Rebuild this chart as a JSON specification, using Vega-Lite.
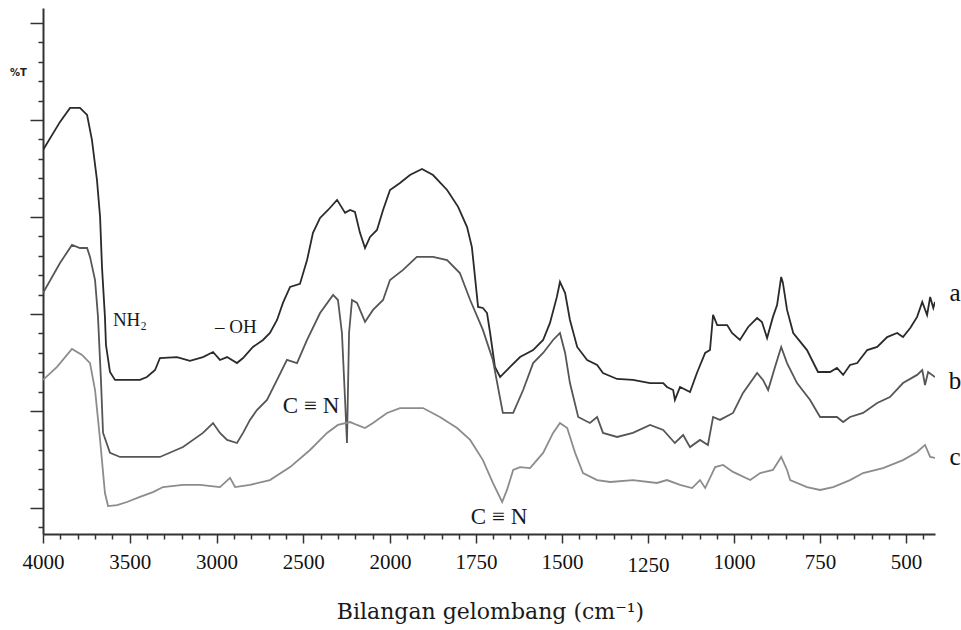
{
  "$schema": "https://vega.github.io/schema/vega-lite/v6.json",
  "width": 892,
  "height": 526,
  "autosize": "none",
  "padding": {"left": 43, "top": 8, "right": 26, "bottom": 96},
  "background": "white",
  "config": {"view": {"stroke": null}, "axis": {"grid": false}},
  "datasets": {
    "spectra": [
      {"s":"a","wn":4000,"t":23.45},{"s":"a","wn":3902,"t":24.90},{"s":"a","wn":3844,"t":25.62},{"s":"a","wn":3787,"t":25.62},{"s":"a","wn":3746,"t":25.26},{"s":"a","wn":3718,"t":23.97},{"s":"a","wn":3689,"t":21.91},{"s":"a","wn":3671,"t":20.00},{"s":"a","wn":3660,"t":17.42},{"s":"a","wn":3643,"t":14.85},{"s":"a","wn":3637,"t":13.40},{"s":"a","wn":3614,"t":12.01},{"s":"a","wn":3585,"t":11.60},{"s":"a","wn":3481,"t":11.60},{"s":"a","wn":3441,"t":11.60},{"s":"a","wn":3401,"t":11.75},{"s":"a","wn":3354,"t":12.11},{"s":"a","wn":3326,"t":12.73},{"s":"a","wn":3228,"t":12.78},{"s":"a","wn":3153,"t":12.58},{"s":"a","wn":3078,"t":12.78},{"s":"a","wn":3020,"t":13.04},{"s":"a","wn":2980,"t":12.63},{"s":"a","wn":2939,"t":12.78},{"s":"a","wn":2882,"t":12.47},{"s":"a","wn":2847,"t":12.73},{"s":"a","wn":2790,"t":13.30},{"s":"a","wn":2732,"t":13.66},{"s":"a","wn":2692,"t":14.02},{"s":"a","wn":2651,"t":14.69},{"s":"a","wn":2617,"t":15.57},{"s":"a","wn":2576,"t":16.39},{"s":"a","wn":2519,"t":16.55},{"s":"a","wn":2478,"t":17.78},{"s":"a","wn":2444,"t":19.18},{"s":"a","wn":2403,"t":19.95},{"s":"a","wn":2357,"t":20.36},{"s":"a","wn":2305,"t":20.88},{"s":"a","wn":2259,"t":20.21},{"s":"a","wn":2230,"t":20.36},{"s":"a","wn":2202,"t":20.26},{"s":"a","wn":2173,"t":19.18},{"s":"a","wn":2144,"t":18.40},{"s":"a","wn":2115,"t":18.97},{"s":"a","wn":2075,"t":19.33},{"s":"a","wn":2040,"t":20.36},{"s":"a","wn":2000,"t":21.39},{"s":"a","wn":1971,"t":21.75},{"s":"a","wn":1942,"t":22.16},{"s":"a","wn":1907,"t":22.47},{"s":"a","wn":1875,"t":22.16},{"s":"a","wn":1834,"t":21.39},{"s":"a","wn":1802,"t":20.52},{"s":"a","wn":1776,"t":19.48},{"s":"a","wn":1762,"t":18.45},{"s":"a","wn":1753,"t":16.91},{"s":"a","wn":1744,"t":15.36},{"s":"a","wn":1730,"t":15.31},{"s":"a","wn":1718,"t":15.05},{"s":"a","wn":1709,"t":14.02},{"s":"a","wn":1695,"t":12.27},{"s":"a","wn":1680,"t":11.75},{"s":"a","wn":1651,"t":12.27},{"s":"a","wn":1622,"t":12.78},{"s":"a","wn":1584,"t":13.14},{"s":"a","wn":1555,"t":13.66},{"s":"a","wn":1535,"t":14.54},{"s":"a","wn":1515,"t":15.88},{"s":"a","wn":1506,"t":16.65},{"s":"a","wn":1491,"t":16.08},{"s":"a","wn":1477,"t":14.69},{"s":"a","wn":1456,"t":13.30},{"s":"a","wn":1427,"t":12.63},{"s":"a","wn":1398,"t":12.37},{"s":"a","wn":1381,"t":11.96},{"s":"a","wn":1340,"t":11.65},{"s":"a","wn":1294,"t":11.60},{"s":"a","wn":1244,"t":11.44},{"s":"a","wn":1206,"t":11.44},{"s":"a","wn":1195,"t":11.24},{"s":"a","wn":1177,"t":11.08},{"s":"a","wn":1172,"t":10.57},{"s":"a","wn":1157,"t":11.24},{"s":"a","wn":1128,"t":10.98},{"s":"a","wn":1108,"t":11.96},{"s":"a","wn":1084,"t":12.99},{"s":"a","wn":1070,"t":13.14},{"s":"a","wn":1061,"t":14.95},{"s":"a","wn":1049,"t":14.43},{"s":"a","wn":1020,"t":14.43},{"s":"a","wn":1006,"t":14.02},{"s":"a","wn":983,"t":13.66},{"s":"a","wn":959,"t":14.33},{"s":"a","wn":933,"t":14.79},{"s":"a","wn":919,"t":14.59},{"s":"a","wn":904,"t":13.76},{"s":"a","wn":887,"t":14.85},{"s":"a","wn":875,"t":15.46},{"s":"a","wn":863,"t":16.91},{"s":"a","wn":858,"t":16.60},{"s":"a","wn":846,"t":15.21},{"s":"a","wn":828,"t":14.02},{"s":"a","wn":788,"t":13.14},{"s":"a","wn":756,"t":12.01},{"s":"a","wn":721,"t":12.01},{"s":"a","wn":701,"t":12.22},{"s":"a","wn":683,"t":11.86},{"s":"a","wn":663,"t":12.37},{"s":"a","wn":642,"t":12.47},{"s":"a","wn":613,"t":13.14},{"s":"a","wn":584,"t":13.30},{"s":"a","wn":555,"t":13.81},{"s":"a","wn":526,"t":14.02},{"s":"a","wn":509,"t":13.81},{"s":"a","wn":488,"t":14.28},{"s":"a","wn":468,"t":14.85},{"s":"a","wn":453,"t":15.62},{"s":"a","wn":439,"t":14.95},{"s":"a","wn":430,"t":15.88},{"s":"a","wn":421,"t":15.31},{"s":"a","wn":416,"t":15.62},
      {"s":"b","wn":4000,"t":16.08},{"s":"b","wn":3902,"t":17.63},{"s":"b","wn":3833,"t":18.56},{"s":"b","wn":3787,"t":18.40},{"s":"b","wn":3746,"t":18.40},{"s":"b","wn":3729,"t":17.94},{"s":"b","wn":3700,"t":16.75},{"s":"b","wn":3683,"t":14.85},{"s":"b","wn":3666,"t":11.60},{"s":"b","wn":3654,"t":8.87},{"s":"b","wn":3614,"t":7.84},{"s":"b","wn":3556,"t":7.63},{"s":"b","wn":3481,"t":7.63},{"s":"b","wn":3326,"t":7.63},{"s":"b","wn":3193,"t":8.14},{"s":"b","wn":3078,"t":8.87},{"s":"b","wn":3020,"t":9.38},{"s":"b","wn":2980,"t":8.87},{"s":"b","wn":2939,"t":8.51},{"s":"b","wn":2882,"t":8.35},{"s":"b","wn":2847,"t":8.87},{"s":"b","wn":2807,"t":9.54},{"s":"b","wn":2767,"t":10.05},{"s":"b","wn":2709,"t":10.57},{"s":"b","wn":2651,"t":11.60},{"s":"b","wn":2594,"t":12.63},{"s":"b","wn":2536,"t":12.47},{"s":"b","wn":2478,"t":13.66},{"s":"b","wn":2403,"t":15.05},{"s":"b","wn":2328,"t":15.98},{"s":"b","wn":2300,"t":15.72},{"s":"b","wn":2277,"t":14.02},{"s":"b","wn":2259,"t":10.57},{"s":"b","wn":2248,"t":8.35},{"s":"b","wn":2236,"t":14.02},{"s":"b","wn":2219,"t":15.72},{"s":"b","wn":2190,"t":15.57},{"s":"b","wn":2144,"t":14.59},{"s":"b","wn":2098,"t":15.21},{"s":"b","wn":2040,"t":15.72},{"s":"b","wn":2000,"t":16.75},{"s":"b","wn":1962,"t":17.27},{"s":"b","wn":1922,"t":17.94},{"s":"b","wn":1875,"t":17.94},{"s":"b","wn":1834,"t":17.78},{"s":"b","wn":1797,"t":17.11},{"s":"b","wn":1767,"t":15.72},{"s":"b","wn":1730,"t":14.18},{"s":"b","wn":1701,"t":12.63},{"s":"b","wn":1672,"t":9.90},{"s":"b","wn":1642,"t":9.90},{"s":"b","wn":1613,"t":11.08},{"s":"b","wn":1584,"t":12.47},{"s":"b","wn":1555,"t":12.99},{"s":"b","wn":1526,"t":13.66},{"s":"b","wn":1506,"t":14.02},{"s":"b","wn":1491,"t":12.99},{"s":"b","wn":1477,"t":11.44},{"s":"b","wn":1453,"t":9.69},{"s":"b","wn":1419,"t":9.38},{"s":"b","wn":1398,"t":9.69},{"s":"b","wn":1381,"t":8.87},{"s":"b","wn":1340,"t":8.66},{"s":"b","wn":1294,"t":8.87},{"s":"b","wn":1244,"t":9.28},{"s":"b","wn":1206,"t":9.02},{"s":"b","wn":1172,"t":8.35},{"s":"b","wn":1148,"t":8.76},{"s":"b","wn":1128,"t":8.14},{"s":"b","wn":1099,"t":8.51},{"s":"b","wn":1076,"t":8.25},{"s":"b","wn":1061,"t":9.69},{"s":"b","wn":1041,"t":9.54},{"s":"b","wn":1003,"t":9.90},{"s":"b","wn":974,"t":10.93},{"s":"b","wn":933,"t":11.96},{"s":"b","wn":916,"t":11.60},{"s":"b","wn":901,"t":11.08},{"s":"b","wn":881,"t":12.27},{"s":"b","wn":863,"t":13.30},{"s":"b","wn":846,"t":12.47},{"s":"b","wn":817,"t":11.44},{"s":"b","wn":779,"t":10.57},{"s":"b","wn":750,"t":9.69},{"s":"b","wn":701,"t":9.69},{"s":"b","wn":683,"t":9.43},{"s":"b","wn":663,"t":9.69},{"s":"b","wn":625,"t":9.90},{"s":"b","wn":584,"t":10.41},{"s":"b","wn":547,"t":10.72},{"s":"b","wn":509,"t":11.44},{"s":"b","wn":468,"t":11.86},{"s":"b","wn":453,"t":12.11},{"s":"b","wn":445,"t":11.34},{"s":"b","wn":436,"t":12.01},{"s":"b","wn":416,"t":11.75},
      {"s":"c","wn":4000,"t":11.60},{"s":"c","wn":3919,"t":12.27},{"s":"c","wn":3833,"t":13.20},{"s":"c","wn":3775,"t":12.89},{"s":"c","wn":3729,"t":12.47},{"s":"c","wn":3700,"t":11.08},{"s":"c","wn":3671,"t":8.51},{"s":"c","wn":3643,"t":5.77},{"s":"c","wn":3625,"t":5.10},{"s":"c","wn":3573,"t":5.15},{"s":"c","wn":3516,"t":5.31},{"s":"c","wn":3441,"t":5.57},{"s":"c","wn":3366,"t":5.82},{"s":"c","wn":3308,"t":6.08},{"s":"c","wn":3193,"t":6.19},{"s":"c","wn":3095,"t":6.19},{"s":"c","wn":2980,"t":6.08},{"s":"c","wn":2922,"t":6.55},{"s":"c","wn":2893,"t":6.08},{"s":"c","wn":2807,"t":6.19},{"s":"c","wn":2692,"t":6.44},{"s":"c","wn":2576,"t":7.11},{"s":"c","wn":2461,"t":7.99},{"s":"c","wn":2363,"t":8.87},{"s":"c","wn":2300,"t":9.28},{"s":"c","wn":2230,"t":9.43},{"s":"c","wn":2190,"t":9.28},{"s":"c","wn":2144,"t":9.12},{"s":"c","wn":2098,"t":9.38},{"s":"c","wn":2017,"t":9.90},{"s":"c","wn":1971,"t":10.15},{"s":"c","wn":1904,"t":10.15},{"s":"c","wn":1855,"t":9.69},{"s":"c","wn":1805,"t":9.12},{"s":"c","wn":1767,"t":8.51},{"s":"c","wn":1730,"t":7.47},{"s":"c","wn":1701,"t":6.29},{"s":"c","wn":1674,"t":5.31},{"s":"c","wn":1660,"t":5.93},{"s":"c","wn":1642,"t":6.96},{"s":"c","wn":1622,"t":7.11},{"s":"c","wn":1593,"t":7.06},{"s":"c","wn":1555,"t":7.84},{"s":"c","wn":1526,"t":8.87},{"s":"c","wn":1506,"t":9.38},{"s":"c","wn":1485,"t":9.12},{"s":"c","wn":1462,"t":7.84},{"s":"c","wn":1439,"t":6.80},{"s":"c","wn":1398,"t":6.44},{"s":"c","wn":1360,"t":6.34},{"s":"c","wn":1294,"t":6.44},{"s":"c","wn":1224,"t":6.29},{"s":"c","wn":1195,"t":6.44},{"s":"c","wn":1157,"t":6.19},{"s":"c","wn":1122,"t":6.03},{"s":"c","wn":1099,"t":6.44},{"s":"c","wn":1084,"t":6.03},{"s":"c","wn":1055,"t":7.11},{"s":"c","wn":1032,"t":7.22},{"s":"c","wn":1003,"t":6.86},{"s":"c","wn":953,"t":6.44},{"s":"c","wn":924,"t":6.80},{"s":"c","wn":887,"t":6.96},{"s":"c","wn":863,"t":7.63},{"s":"c","wn":846,"t":6.96},{"s":"c","wn":837,"t":6.44},{"s":"c","wn":788,"t":6.08},{"s":"c","wn":750,"t":5.93},{"s":"c","wn":712,"t":6.08},{"s":"c","wn":663,"t":6.44},{"s":"c","wn":625,"t":6.80},{"s":"c","wn":567,"t":7.06},{"s":"c","wn":509,"t":7.47},{"s":"c","wn":468,"t":7.89},{"s":"c","wn":445,"t":8.25},{"s":"c","wn":430,"t":7.63},{"s":"c","wn":416,"t":7.58}
    ]
  },
  "encoding": {
    "x": {
      "field": "wn",
      "type": "quantitative",
      "scale": {"domain": [4000, 2000, 416], "range": [0, 347, 892], "nice": false, "zero": false},
      "axis": {
        "values": [4000,3900,3800,3700,3600,3500,3400,3300,3200,3100,3000,2900,2800,2700,2600,2500,2400,2300,2200,2100,2000,1950,1900,1850,1800,1750,1700,1650,1600,1550,1500,1450,1400,1350,1300,1250,1200,1150,1100,1050,1000,950,900,850,800,750,700,650,600,550,500,450],
        "format": "d",
        "labelExpr": "(datum.value % 500 === 0 || (datum.value <= 2000 && datum.value % 250 === 0)) ? datum.label : ''",
        "tickSize": {"condition": {"test": "datum.value % 500 === 0 || (datum.value <= 2000 && datum.value % 250 === 0)", "value": 9}, "value": 5},
        "labelPadding": {"condition": {"test": "datum.value === 1250", "value": 11}, "value": 8},
        "labelOverlap": false,
        "labelFlush": false,
        "labelBound": false,
        "labelFont": "Liberation Serif",
        "labelFontSize": 21,
        "labelColor": "#111111",
        "domainColor": "#333333",
        "domainWidth": 2,
        "tickColor": "#333333",
        "tickWidth": 1.5,
        "title": "Bilangan gelombang (cm⁻¹)",
        "titleFont": "DejaVu Serif",
        "titleFontSize": 22,
        "titleFontWeight": "normal",
        "titleColor": "#1a1a1a",
        "titleX": 447,
        "titleY": 84,
        "titleAlign": "center",
        "titleBaseline": "alphabetic"
      }
    },
    "y": {
      "field": "t",
      "type": "quantitative",
      "scale": {"domain": [3.66, 30.77], "nice": false, "zero": false},
      "axis": {
        "values": [4,5,6,7,8,9,10,11,12,13,14,15,16,17,18,19,20,21,22,23,24,25,26,27,28,29,30],
        "labels": false,
        "tickSize": {"condition": {"test": "datum.value % 5 === 0", "value": 13}, "value": 5},
        "domainColor": "#333333",
        "domainWidth": 2,
        "tickColor": "#333333",
        "tickWidth": 1.5,
        "title": "%T",
        "titleAngle": 0,
        "titleX": -25,
        "titleY": 64,
        "titleAlign": "center",
        "titleBaseline": "middle",
        "titleFont": "DejaVu Sans",
        "titleFontSize": 10,
        "titleFontWeight": "bold",
        "titleColor": "#222222"
      }
    }
  },
  "layer": [
    {
      "data": {"name": "spectra"},
      "mark": {"type": "line", "strokeWidth": 1.8, "clip": true},
      "encoding": {
        "color": {
          "field": "s",
          "type": "nominal",
          "scale": {"domain": ["a", "b", "c"], "range": ["#2a2a2a", "#565656", "#8c8c8c"]},
          "legend": null
        }
      }
    },
    {
      "data": {"values": [
        {"note": "NH₂", "wn": 3499, "t": 14.69},
        {"note": "– OH", "wn": 2888, "t": 14.33}
      ]},
      "mark": {"type": "text", "font": "Liberation Serif", "fontSize": 19, "color": "#1a1a1a", "align": "center", "baseline": "middle"},
      "encoding": {"text": {"field": "note"}}
    },
    {
      "data": {"values": [
        {"note": "C ≡ N", "wn": 2455, "t": 10.26},
        {"note": "C ≡ N", "wn": 1683, "t": 4.54}
      ]},
      "mark": {"type": "text", "font": "Liberation Serif", "fontSize": 23, "color": "#1a1a1a", "align": "center", "baseline": "middle"},
      "encoding": {"text": {"field": "note"}}
    },
    {
      "data": {"values": [
        {"note": "a", "wn": 358, "t": 16.08},
        {"note": "b", "wn": 358, "t": 11.55},
        {"note": "c", "wn": 358, "t": 7.63}
      ]},
      "mark": {"type": "text", "font": "Liberation Serif", "fontSize": 25, "color": "#111111", "align": "center", "baseline": "middle"},
      "encoding": {"text": {"field": "note"}}
    }
  ]
}
